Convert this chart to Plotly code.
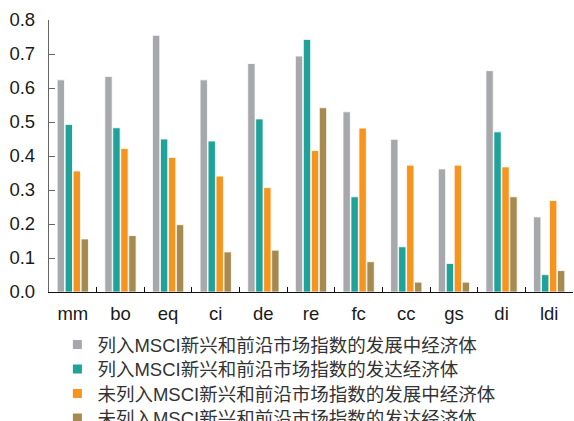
import plotly.graph_objects as go

# Indicator codes on the category axis
categories = ["mm", "bo", "eq", "ci", "de", "re", "fc", "cc", "gs", "di", "ldi"]

# Series names
names = [
    "列入MSCI新兴和前沿市场指数的发展中经济体",
    "列入MSCI新兴和前沿市场指数的发达经济体",
    "未列入MSCI新兴和前沿市场指数的发展中经济体",
    "未列入MSCI新兴和前沿市场指数的发达经济体",
]

# Values per series
msci_developing = [0.624, 0.634, 0.755, 0.624, 0.672, 0.694, 0.530, 0.449, 0.362, 0.651, 0.221]
msci_developed = [0.493, 0.483, 0.450, 0.444, 0.509, 0.743, 0.280, 0.133, 0.084, 0.471, 0.051]
non_msci_developing = [0.356, 0.422, 0.396, 0.341, 0.307, 0.416, 0.482, 0.373, 0.373, 0.368, 0.269]
non_msci_developed = [0.156, 0.166, 0.198, 0.118, 0.123, 0.542, 0.089, 0.029, 0.029, 0.280, 0.063]

series = [msci_developing, msci_developed, non_msci_developing, non_msci_developed]
colors = ["#A7A8AC", "#1FA29A", "#F7941D", "#A68A4F"]

FONT = "Liberation Sans, Arial, Noto Sans CJK SC, sans-serif"

fig = go.Figure()

for name, vals, col in zip(names, series, colors):
    fig.add_trace(go.Bar(
        x=categories, y=vals, name=name,
        marker=dict(color=col, line=dict(color="white", width=0.8)),
        showlegend=False,
    ))

# One single-entry legend per series so the rows can sit close together
legend_ids = ["legend", "legend2", "legend3", "legend4"]
legend_rows = [-0.195, -0.285, -0.375, -0.465]

for name, col, lid in zip(names, colors, legend_ids):
    fig.add_trace(go.Scatter(
        x=[None], y=[None], mode="markers", name=name,
        marker=dict(symbol="square", size=9, color=col),
        showlegend=True, legend=lid,
    ))

legend_style = dict(
    x=0.016, xanchor="left", yanchor="middle", orientation="v",
    font=dict(size=18.5, color="#333333"),
    bgcolor="rgba(0,0,0,0)", borderwidth=0, itemsizing="trace",
)

fig.update_layout(
    width=574, height=421,
    margin=dict(l=49, r=1, t=20, b=129, autoexpand=False),
    paper_bgcolor="white", plot_bgcolor="white",
    barmode="group", bargap=0.33, bargroupgap=0.08,
    font=dict(family=FONT, size=18.5, color="#1a1a1a"),
    showlegend=True,
    **{lid: dict(legend_style, y=yv) for lid, yv in zip(legend_ids, legend_rows)},
)

fig.update_xaxes(
    type="category", showline=True, linecolor="#111111", linewidth=1.3,
    ticks="inside", tickson="boundaries", ticklen=5, tickcolor="#111111",
    tickfont=dict(size=18.5), showgrid=False, zeroline=False,
    ticklabelstandoff=5,
)
fig.update_yaxes(
    range=[0, 0.8], dtick=0.1, tickformat=".1f",
    showline=True, linecolor="#666666", linewidth=1.3,
    ticks="inside", ticklen=6, tickcolor="#666666",
    tickfont=dict(size=18.5), showgrid=False, zeroline=False,
    ticklabelstandoff=9,
)

fig.write_html("out.html")
